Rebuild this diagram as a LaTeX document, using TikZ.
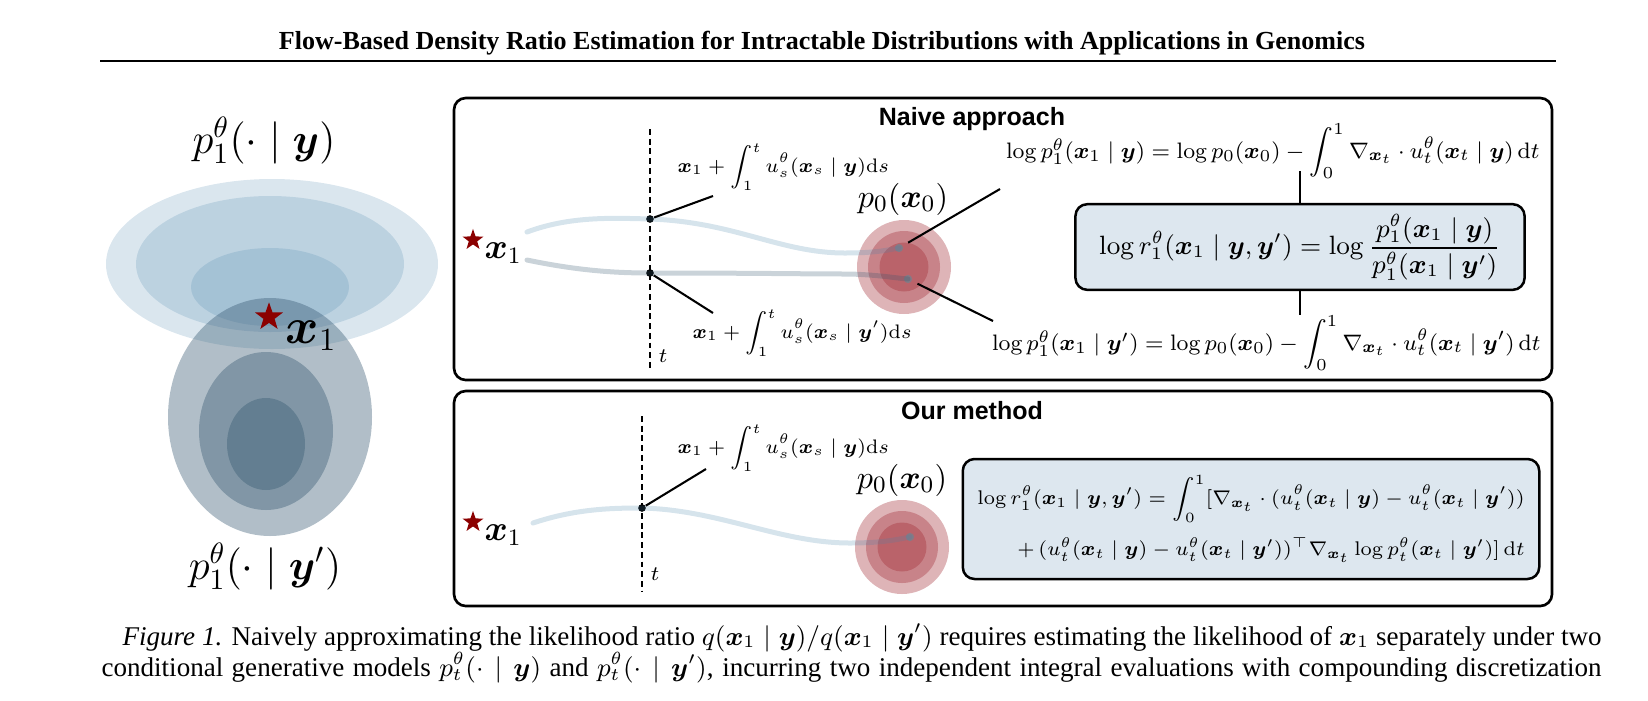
\documentclass[tikz,border=0pt]{standalone}
\usepackage{amsmath}
\usepackage{bm}
\usepackage{graphicx}
\usepackage[no-math]{fontspec}
\setmainfont{Liberation Serif}
\setsansfont{Liberation Sans}
\usetikzlibrary{shapes.geometric}

\definecolor{upblue}{RGB}{70,130,170}
\definecolor{lowslate}{RGB}{50,85,110}
\definecolor{densred}{RGB}{160,40,50}
\definecolor{stardark}{RGB}{139,0,0}
\definecolor{eqblue}{RGB}{221,231,239}
\definecolor{enddot}{RGB}{120,128,140}

\newcommand{\bx}{\bm{x}}
\newcommand{\by}{\bm{y}}
\newcommand{\dd}{\mathrm{d}}
\newcommand{\tighteq}[1]{\scalebox{0.95}{#1}}

\tikzset{
  panel/.style={draw=black, line width=0.9pt, rounded corners=4pt},
  paneltitle/.style={font=\fontsize{8.5}{10}\selectfont\sffamily\bfseries},
  eqbox/.style={draw=black, line width=0.85pt, rounded corners=4pt, fill=eqblue},
  redstar/.style={star, star points=5, star point ratio=2.5, fill=stardark, inner sep=0pt},
  dot/.style={circle, fill=black, inner sep=0pt, minimum size=2.6pt},
  endpt/.style={circle, fill=enddot, fill opacity=0.8, inner sep=0pt, minimum size=2.8pt},
  leader/.style={draw=black, line width=0.7pt},
  tline/.style={draw=black, line width=0.85pt, dash pattern=on 2pt off 1.3pt},
  flowa/.style={draw=upblue, draw opacity=0.22, line width=1.7pt, line cap=round},
  flowb/.style={draw=lowslate, draw opacity=0.26, line width=1.7pt, line cap=round},
  eqtext/.style={font=\fontsize{8}{10}\selectfont, inner sep=0pt},
  intlab/.style={font=\fontsize{7}{9}\selectfont, anchor=base west, inner sep=0pt},
  plab/.style={font=\fontsize{11}{13}\selectfont, anchor=base},
  xlab/.style={font=\fontsize{12}{14}\selectfont, anchor=base west, inner sep=0pt}
}

\begin{document}
\begin{tikzpicture}[x=0.34pt, y=-0.34pt]
    \useasboundingbox (0,0) rectangle (1648,700);

    % running head
    \node[anchor=base, font=\fontsize{8.85}{11}\selectfont\bfseries] (runhead) at (822,49)
      {Flow-Based Density Ratio Estimation for Intractable Distributions with Applications in Genomics};
    \draw[line width=1pt] (100,61) -- (1556,61);

    % left: the two conditionals
    \fill[upblue, fill opacity=0.2] (272,264) ellipse [x radius=166, y radius=85];
    \fill[upblue, fill opacity=0.2] (270,264) ellipse [x radius=134, y radius=68];
    \fill[upblue, fill opacity=0.2] (270,287) ellipse [x radius=79, y radius=39];
    \fill[lowslate, fill opacity=0.38] (270,417) ellipse [x radius=102, y radius=119];
    \fill[lowslate, fill opacity=0.38] (266,431) ellipse [x radius=67, y radius=79];
    \fill[lowslate, fill opacity=0.38] (266,444) ellipse [x radius=39, y radius=46];

    \node[anchor=base, font=\fontsize{14}{16}\selectfont] (condy) at (264,153) {$p_1^{\theta}(\cdot\mid\by)$};
    \node[anchor=base, font=\fontsize{14}{16}\selectfont] (condyp) at (265,579) {$p_1^{\theta}(\cdot\mid\by')$};
    \node[redstar, minimum size=10pt] (starbig) at (269,317) {};
    \node[anchor=base west, inner sep=0pt, font=\fontsize{16}{18}\selectfont] (xbig) at (285,343) {$\bx_1$};

    % panels
    \draw[panel] (454,98) rectangle (1552,380);
    \draw[panel] (454,391) rectangle (1552,606);
    \node[paneltitle] (naivehead) at (972,119) {Naive approach};
    \node[paneltitle] (ourhead) at (972,411) {Our method};

    % naive approach
    \fill[densred, fill opacity=0.35] (904,267) circle [radius=47];
    \fill[densred, fill opacity=0.35] (904,267) circle [radius=36];
    \fill[densred, fill opacity=0.35] (904,267) circle [radius=24.5];
    \node[plab] (pza) at (903,207) {$p_0(\bx_0)$};

    \node[redstar, minimum size=7.5pt] (stara) at (473,240) {};
    \node[xlab] (xa) at (484,258) {$\bx_1$};

    \coordinate (tatop) at (650,129);
    \coordinate (tabot) at (650,370);
    \draw[tline] (tatop) -- (tabot);
    \node[intlab] (ta) at (658,362) {$t$};

    \coordinate (starta) at (527,232);
    \coordinate (startb) at (527,260);
    \node[dot] (dotya) at (650,219) {};
    \node[dot] (dotyb) at (650,273) {};
    \node[endpt] (enda) at (899,248) {};
    \node[endpt] (endb) at (908,279) {};
    \draw[flowa] (starta) .. controls (570,216) and (612,218) .. (dotya.center)
      .. controls (735,222) and (780,253) .. (845,253) .. controls (875,253) and (888,250) .. (enda.center);
    \draw[flowb] (startb) .. controls (575,270) and (612,273) .. (dotyb.center)
      .. controls (760,273) and (800,274) .. (850,274) .. controls (880,275) and (895,278) .. (endb.center);

    \node[intlab] (inta) at (677,172) {\tighteq{$\bx_1+\displaystyle\int_1^t u_s^{\theta}(\bx_s\mid\by)\dd s$}};
    \node[intlab] (intb) at (692,338) {\tighteq{$\bx_1+\displaystyle\int_1^t u_s^{\theta}(\bx_s\mid\by')\dd s$}};
    \coordinate (intain) at (713,196);
    \coordinate (intbin) at (713,313);
    \path[leader] (dotya) edge (intain);
    \path[leader] (dotyb) edge (intbin);

    \node[eqtext, anchor=base east] (logy) at (1540,158)
      {\tighteq{$\log p_1^{\theta}(\bx_1\mid\by)=\log p_0(\bx_0)-\displaystyle\int_0^1\nabla_{\bx_t}\cdot u_t^{\theta}(\bx_t\mid\by)\,\dd t$}};
    \node[eqtext, anchor=base east] (logyp) at (1541,350)
      {\tighteq{$\log p_1^{\theta}(\bx_1\mid\by')=\log p_0(\bx_0)-\displaystyle\int_0^1\nabla_{\bx_t}\cdot u_t^{\theta}(\bx_t\mid\by')\,\dd t$}};
    \coordinate (logyin) at (1000,189);
    \coordinate (logypin) at (993,321);
    \path[leader] (enda) edge[shorten <=2pt] (logyin);
    \path[leader] (endb) edge[shorten <=2pt] (logypin);

    \node[eqbox, font=\fontsize{9}{11}\selectfont, minimum width=152.7pt, minimum height=27.5pt] (ratio) at (1300,247)
      {$\log r_1^{\theta}(\bx_1\mid\by,\by')=\log\dfrac{p_1^{\theta}(\bx_1\mid\by)}{p_1^{\theta}(\bx_1\mid\by')}$};
    \coordinate (logyfoot) at (1300,171);
    \coordinate (logyphead) at (1300,315);
    \draw[leader] (ratio.north) -- (logyfoot);
    \draw[leader] (ratio.south) -- (logyphead);

    % our method
    \fill[densred, fill opacity=0.35] (902,547) circle [radius=47];
    \fill[densred, fill opacity=0.35] (902,547) circle [radius=36];
    \fill[densred, fill opacity=0.35] (902,547) circle [radius=24.5];
    \node[plab] (pzb) at (902,488) {$p_0(\bx_0)$};

    \node[redstar, minimum size=7.5pt] (starb) at (473,522) {};
    \node[xlab] (xb) at (484,540) {$\bx_1$};

    \coordinate (tbtop) at (642,416);
    \coordinate (tbbot) at (642,591);
    \draw[tline] (tbtop) -- (tbbot);
    \node[intlab] (tb) at (650,580) {$t$};

    \coordinate (startc) at (533,523);
    \node[dot] (dotyc) at (642,508) {};
    \node[endpt] (endc) at (910,537) {};
    \draw[flowa] (startc) .. controls (575,509) and (610,508) .. (dotyc.center)
      .. controls (720,510) and (780,543) .. (850,543) .. controls (880,543) and (895,540) .. (endc.center);

    \node[intlab] (intc) at (677,453) {\tighteq{$\bx_1+\displaystyle\int_1^t u_s^{\theta}(\bx_s\mid\by)\dd s$}};
    \coordinate (intcin) at (706,469);
    \path[leader] (dotyc) edge (intcin);

    \node[eqbox, font=\fontsize{7}{9}\selectfont, minimum width=196pt, minimum height=40.8pt, align=right] (ours) at (1251,519)
      {\scalebox{0.96}{$\log r_1^{\theta}(\bx_1\mid\by,\by')=\displaystyle\int_0^1[\nabla_{\bx_t}\cdot(u_t^{\theta}(\bx_t\mid\by)-u_t^{\theta}(\bx_t\mid\by'))$}\\[4pt]
       \scalebox{0.96}{$+\,(u_t^{\theta}(\bx_t\mid\by)-u_t^{\theta}(\bx_t\mid\by'))^{\top}\nabla_{\bx_t}\log p_t^{\theta}(\bx_t\mid\by')]\,\dd t$}};

    % caption
    \node[anchor=base west, inner sep=0pt, font=\fontsize{9.2}{11}\selectfont] (capa) at (122,645)
      {\makebox[502.9pt][s]{\textit{Figure 1.} Naively approximating the likelihood ratio $q(\bx_1\mid\by)/q(\bx_1\mid\by')$ requires estimating the likelihood of $\bx_1$ separately under two}};
    \node[anchor=base west, inner sep=0pt, font=\fontsize{9.2}{11}\selectfont] (capb) at (101,676)
      {\makebox[510pt][s]{conditional generative models $p_t^{\theta}(\cdot\mid\by)$ and $p_t^{\theta}(\cdot\mid\by')$, incurring two independent integral evaluations with compounding discretization}};
\end{tikzpicture}
\end{document}
